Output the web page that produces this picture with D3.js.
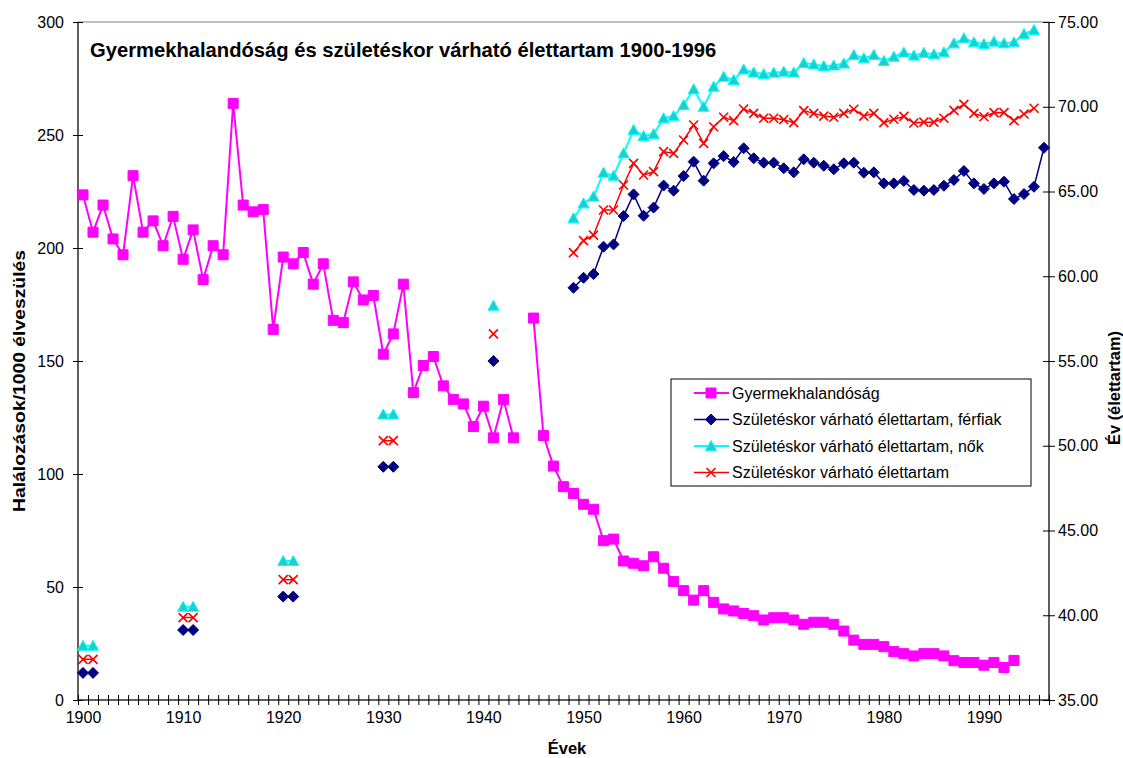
<!DOCTYPE html>
<html>
<head>
<meta charset="utf-8">
<script src="https://cdn.jsdelivr.net/npm/d3@7/dist/d3.min.js"></script>
<style>
  body { margin: 0; background: #fff; }
  svg text { font-family: "Liberation Sans", Arial, sans-serif; fill: #000; }
</style>
</head>
<body>
<svg id="chart" width="1123" height="758"></svg>
<script>
// ---- data ----
const titleText = "Gyermekhalandóság és születéskor várható élettartam 1900-1996";
const decadeLabels = [1900, 1910, 1920, 1930, 1940, 1950, 1960, 1970, 1980, 1990];
const leftTicks = [0, 50, 100, 150, 200, 250, 300];
const rightTicks = [35, 40, 45, 50, 55, 60, 65, 70, 75];

// infant deaths per 1000 live births, 1900..1993 (1944 missing)
const childFirstYear = 1900;
const childMortality = [
  223.5, 207, 219, 204, 197, 232, 207, 212, 201, 214,
  195, 208, 186, 201, 197, 264, 219, 216, 217, 164,
  196, 193, 198, 184, 193, 168, 167, 185, 177, 179,
  153, 162, 184, 136, 148, 152, 139, 133, 131, 121,
  130, 116, 133, 116, null, 169, 117, 103.5, 94.4, 91.4,
  86.6, 84.4, 70.5, 71.2, 61.5, 60.5, 59.4, 63.4, 58.3, 52.4,
  48.4, 44.2, 48.4, 43.2, 40.3, 39.4, 38.3, 37.3, 35.4, 36.4,
  36.4, 35.4, 33.5, 34.4, 34.4, 33.5, 30.5, 26.5, 24.6, 24.6,
  23.6, 21.4, 20.5, 19.5, 20.5, 20.5, 19.5, 17.4, 16.6, 16.6,
  15.4, 16.6, 14.4, 17.5
];

// life expectancy at birth (years)
const lifeYears = [
  1900, 1901, 1910, 1911, 1920, 1921, 1930, 1931, 1941,
  1949, 1950, 1951, 1952, 1953, 1954, 1955, 1956, 1957, 1958, 1959,
  1960, 1961, 1962, 1963, 1964, 1965, 1966, 1967, 1968, 1969,
  1970, 1971, 1972, 1973, 1974, 1975, 1976, 1977, 1978, 1979,
  1980, 1981, 1982, 1983, 1984, 1985, 1986, 1987, 1988, 1989,
  1990, 1991, 1992, 1993, 1994, 1995, 1996
];
const lifeMen = [
  36.6, 36.6, 39.13, 39.13, 41.1, 41.1, 48.76, 48.76, 55.0,
  59.32, 59.91, 60.13, 61.74, 61.88, 63.55, 64.83, 63.57, 64.05, 65.35, 65.05,
  65.91, 66.76, 65.64, 66.66, 67.09, 66.74, 67.55, 66.96, 66.70, 66.70,
  66.37, 66.13, 66.90, 66.70, 66.52, 66.31, 66.66, 66.70, 66.11, 66.13,
  65.48, 65.48, 65.62, 65.09, 65.05, 65.09, 65.34, 65.68, 66.21, 65.48,
  65.15, 65.48, 65.58, 64.56, 64.85, 65.28, 67.58
];
const lifeWomen = [
  38.2, 38.2, 40.5, 40.5, 43.2, 43.2, 51.85, 51.85, 58.26,
  63.42, 64.30, 64.70, 66.11, 65.93, 67.25, 68.63, 68.27, 68.39, 69.32, 69.45,
  70.10, 71.03, 70.00, 71.18, 71.77, 71.58, 72.20, 72.02, 71.93, 72.01,
  72.07, 72.02, 72.58, 72.50, 72.40, 72.44, 72.55, 73.05, 72.86, 73.05,
  72.70, 72.95, 73.20, 73.02, 73.18, 73.09, 73.21, 73.74, 74.04, 73.80,
  73.70, 73.84, 73.74, 73.80, 74.29, 74.53, null
];
const lifeTotal = [
  37.4, 37.4, 39.86, 39.86, 42.1, 42.1, 50.3, 50.3, 56.6,
  61.39, 62.10, 62.43, 63.91, 63.91, 65.38, 66.66, 65.97, 66.17, 67.35, 67.25,
  68.04, 68.92, 67.84, 68.82, 69.38, 69.18, 69.87, 69.61, 69.32, 69.32,
  69.24, 69.06, 69.77, 69.61, 69.45, 69.38, 69.61, 69.85, 69.45, 69.61,
  69.06, 69.26, 69.43, 69.04, 69.09, 69.09, 69.32, 69.79, 70.14, 69.61,
  69.41, 69.65, 69.65, 69.18, 69.57, 69.91, null
];

const seriesNames = [
  "Gyermekhalandóság",
  "Születéskor várható élettartam, férfiak",
  "Születéskor várható élettartam, nők",
  "Születéskor várható élettartam"
];
const firstYear = 1900, lastYear = 1996;

// ---- layout ----
const svg = d3.select("#chart");
const plot = { left: 78, right: 1049, top: 22, bottom: 700 };

// category axis: one slot per year, markers at slot centres
const x = d3.scaleLinear().domain([firstYear - 0.5, lastYear + 0.5]).range([plot.left, plot.right]);
const yL = d3.scaleLinear().domain([0, 300]).range([plot.bottom, plot.top]);
const yR = d3.scaleLinear().domain([35, 75]).range([plot.bottom, plot.top]);

// year-indexed rows so that missing years break the lines
const allYears = d3.range(firstYear, lastYear + 1);
function byYear(ys, vs) {
  const m = new Map(ys.map((yy, i) => [yy, vs[i]]));
  return allYears.map(yy => ({ year: yy, v: m.has(yy) ? m.get(yy) : null }));
}
const childRows = byYear(childMortality.map((_, i) => childFirstYear + i), childMortality);
const menRows = byYear(lifeYears, lifeMen);
const womenRows = byYear(lifeYears, lifeWomen);
const totalRows = byYear(lifeYears, lifeTotal);

// plot frame
svg.append("rect")
  .attr("x", plot.left).attr("y", plot.top)
  .attr("width", plot.right - plot.left).attr("height", plot.bottom - plot.top)
  .attr("fill", "none").attr("stroke", "#808080").attr("stroke-width", 1);

// ---- axes ----
const gLeft = svg.append("g").attr("transform", `translate(${plot.left},0)`)
  .call(d3.axisLeft(yL).tickValues(leftTicks).tickSize(5).tickPadding(9).tickFormat(d3.format("d")));
gLeft.selectAll(".tick line").attr("x2", -5).attr("x1", 5).attr("stroke", "#000");
gLeft.select(".domain").attr("stroke", "#000").attr("d", `M0,${plot.top}V${plot.bottom}`);
gLeft.selectAll("text").style("font-size", "16px").attr("fill", "#000");

const gRight = svg.append("g").attr("transform", `translate(${plot.right},0)`)
  .call(d3.axisRight(yR).tickValues(rightTicks).tickSize(6).tickPadding(3).tickFormat(d3.format(".2f")));
gRight.selectAll(".tick line").attr("x1", -6).attr("x2", 6).attr("stroke", "#000");
gRight.select(".domain").attr("stroke", "#000").attr("d", `M0,${plot.top}V${plot.bottom}`);
gRight.selectAll("text").style("font-size", "16px").attr("fill", "#000");

// year boundary ticks (crossing the axis line)
const gBottom = svg.append("g").attr("transform", `translate(0,${plot.bottom})`)
  .call(d3.axisBottom(x).tickValues(allYears.map(d => d - 0.5).concat([lastYear + 0.5])).tickSize(5).tickFormat(""));
gBottom.selectAll(".tick line").attr("y1", -5).attr("y2", 5).attr("stroke", "#000");
gBottom.select(".domain").attr("stroke", "#000").attr("d", `M${plot.left},0H${plot.right}`);

// decade labels at slot centres
const gLabels = svg.append("g").attr("transform", `translate(0,${plot.bottom})`)
  .call(d3.axisBottom(x).tickValues(decadeLabels).tickSize(0).tickPadding(12).tickFormat(d3.format("d")));
gLabels.select(".domain").remove();
gLabels.selectAll("text").style("font-size", "16px").attr("fill", "#000");

// ---- series ----
const lineChild = d3.line().defined(d => d.v != null).x(d => x(d.year)).y(d => yL(d.v));
const lineLife = d3.line().defined(d => d.v != null).x(d => x(d.year)).y(d => yR(d.v));

const markers = {
  square: "M-5,-5H5V5H-5Z",
  diamond: "M0,-5.5L5.5,0L0,5.5L-5.5,0Z",
  triangle: "M0,-5.5L5.5,4.5L-5.5,4.5Z",
  cross: "M-4.5,-4.5L4.5,4.5M4.5,-4.5L-4.5,4.5"
};

const series = [
  { rows: childRows, line: lineChild, scale: yL, color: "#ff00ff", width: 2, marker: "square", fill: "#ff00ff", mstroke: "#ff00ff" },
  { rows: menRows, line: lineLife, scale: yR, color: "#000080", width: 1.5, marker: "diamond", fill: "#000080", mstroke: "#000080" },
  { rows: womenRows, line: lineLife, scale: yR, color: "#00ffff", width: 2, marker: "triangle", fill: "#20cccc", mstroke: "#00ffff" },
  { rows: totalRows, line: lineLife, scale: yR, color: "#ff0000", width: 1.5, marker: "cross", fill: "none", mstroke: "#ff0000" }
];

// draw in order: child mortality, men, women, total
series.forEach(s => {
  svg.append("path")
    .attr("d", s.line(s.rows))
    .attr("fill", "none").attr("stroke", s.color).attr("stroke-width", s.width)
    .attr("stroke-linejoin", "round");
  svg.append("g").selectAll("path")
    .data(s.rows.filter(d => d.v != null))
    .join("path")
    .attr("transform", d => `translate(${x(d.year)},${s.scale(d.v)})`)
    .attr("d", markers[s.marker])
    .attr("fill", s.fill)
    .attr("stroke", s.mstroke)
    .attr("stroke-width", s.marker === "cross" ? 1.6 : 1);
});

// ---- title ----
svg.append("text")
  .attr("x", 90).attr("y", 57)
  .style("font-size", "20.2px").style("font-weight", "bold")
  .text(titleText);

// ---- axis titles ----
svg.append("text")
  .attr("transform", `translate(25,381) rotate(-90)`)
  .attr("text-anchor", "middle")
  .attr("textLength", 262).attr("lengthAdjust", "spacingAndGlyphs")
  .style("font-size", "17px").style("font-weight", "bold")
  .text("Halálozások/1000 élveszülés");

svg.append("text")
  .attr("transform", `translate(1120,388) rotate(-90)`)
  .attr("text-anchor", "middle")
  .attr("textLength", 114).attr("lengthAdjust", "spacingAndGlyphs")
  .style("font-size", "17px").style("font-weight", "bold")
  .text("Év (élettartam)");

svg.append("text")
  .attr("x", 567).attr("y", 754)
  .attr("text-anchor", "middle")
  .style("font-size", "16.5px").style("font-weight", "bold")
  .text("Évek");

// ---- legend ----
const legend = { x: 671, y: 379, w: 360, h: 107, rowH: 26.5 };
const gLegend = svg.append("g");
gLegend.append("rect")
  .attr("x", legend.x).attr("y", legend.y).attr("width", legend.w).attr("height", legend.h)
  .attr("fill", "#fff").attr("stroke", "#000").attr("stroke-width", 1);
series.forEach((s, i) => {
  const cy = legend.y + 14 + i * legend.rowH;
  gLegend.append("line")
    .attr("x1", legend.x + 23).attr("x2", legend.x + 58).attr("y1", cy).attr("y2", cy)
    .attr("stroke", s.color).attr("stroke-width", s.width);
  gLegend.append("path")
    .attr("transform", `translate(${legend.x + 40},${cy})`)
    .attr("d", markers[s.marker])
    .attr("fill", s.fill).attr("stroke", s.mstroke)
    .attr("stroke-width", s.marker === "cross" ? 1.6 : 1);
  gLegend.append("text")
    .attr("x", legend.x + 61).attr("y", cy + 5.5)
    .style("font-size", "16px")
    .text(seriesNames[i]);
});
</script>
</body>
</html>
